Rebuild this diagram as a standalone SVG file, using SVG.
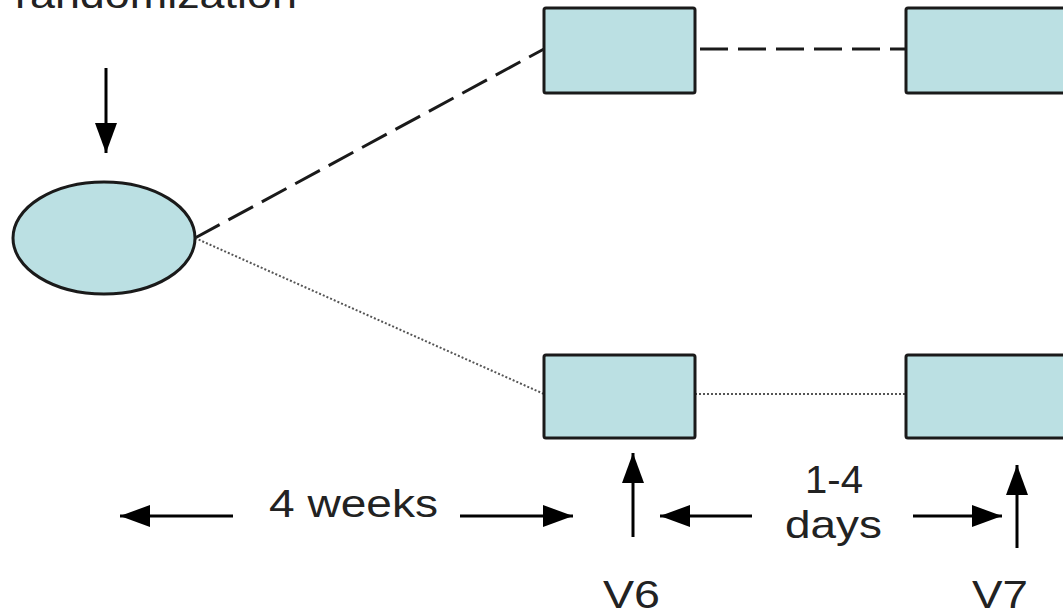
<svg xmlns="http://www.w3.org/2000/svg" width="1063" height="615" viewBox="0 0 1063 615">
<style>
.node{fill:#BBE0E3;stroke:#1a1a1a;stroke-width:3}
.t{font-family:"Liberation Sans",Arial,sans-serif;font-size:39px;fill:#222}
.arr{stroke:#000;stroke-width:3;fill:none}
</style>
<defs>
<marker id="ah" viewBox="0 0 30 22" refX="30" refY="11" markerWidth="30" markerHeight="22" markerUnits="userSpaceOnUse" orient="auto">
<path d="M0,0 L30,11 L0,22 Z" fill="#000"/>
</marker>
</defs>
<rect width="1063" height="615" fill="#fff"/>
<g id="connectors">
<line x1="195" y1="238" x2="544" y2="49" stroke="#1a1a1a" stroke-width="3" stroke-dasharray="28 10"/>
<line x1="695" y1="49" x2="906" y2="49" stroke="#1a1a1a" stroke-width="3" stroke-dasharray="28 10" stroke-dashoffset="-5"/>
<line x1="195" y1="238" x2="544" y2="394" stroke="#555" stroke-width="2" stroke-dasharray="2 2"/>
<line x1="695" y1="394" x2="906" y2="394" stroke="#555" stroke-width="2" stroke-dasharray="2 2"/>
<line class="arr" x1="106" y1="68" x2="106" y2="153" marker-end="url(#ah)"/>
<line class="arr" x1="233" y1="516" x2="120" y2="516" marker-end="url(#ah)"/>
<line class="arr" x1="460" y1="516" x2="573" y2="516" marker-end="url(#ah)"/>
<line class="arr" x1="633" y1="537" x2="633" y2="453" marker-end="url(#ah)"/>
<line class="arr" x1="752" y1="516" x2="660" y2="516" marker-end="url(#ah)"/>
<line class="arr" x1="913" y1="516" x2="1002" y2="516" marker-end="url(#ah)"/>
<line class="arr" x1="1017" y1="548" x2="1017" y2="465" marker-end="url(#ah)"/>
</g>
<g id="randomization">
<ellipse class="node" cx="104" cy="238" rx="91" ry="56" stroke-width="2.5"/>
</g>
<g id="box-top-1"><rect class="node" x="544" y="8" width="151" height="85" rx="2"/></g>
<g id="box-top-2"><rect class="node" x="906" y="8" width="170" height="85" rx="2"/></g>
<g id="box-bottom-1"><rect class="node" x="544" y="355" width="151" height="83" rx="2"/></g>
<g id="box-bottom-2"><rect class="node" x="906" y="355" width="170" height="83" rx="2"/></g>
<g id="labels">
<text class="t" x="0" y="8" textLength="297" lengthAdjust="spacingAndGlyphs">-randomization</text>
<text class="t" x="269" y="517" textLength="169" lengthAdjust="spacingAndGlyphs">4 weeks</text>
<text class="t" x="805" y="493" textLength="58" lengthAdjust="spacingAndGlyphs">1-4</text>
<text class="t" x="785" y="538" textLength="97" lengthAdjust="spacingAndGlyphs">days</text>
<text class="t" x="603" y="608" textLength="57" lengthAdjust="spacingAndGlyphs">V6</text>
<text class="t" x="972" y="608" textLength="56" lengthAdjust="spacingAndGlyphs">V7</text>
</g>
</svg>
